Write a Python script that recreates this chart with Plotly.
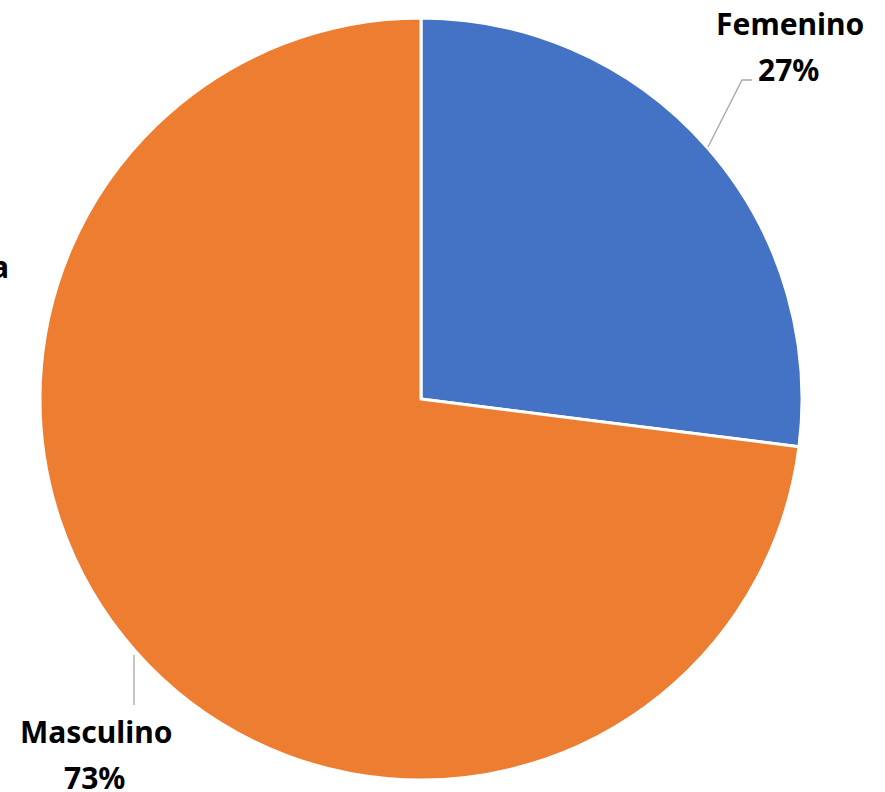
import plotly.graph_objects as go

W, H = 885, 792

labels = ['Femenino', 'Masculino']
values = [27, 73]
colors = ['#4472C4', '#ED7D31']

# pie placement in page pixels (centre + radius), converted to paper coords
cx, cy, r = 421, 399, 381


def px(x):
    return x / W


def py(y):
    return 1 - y / H


fig = go.Figure()
fig.add_trace(go.Pie(
    labels=labels,
    values=values,
    sort=False,
    direction='clockwise',
    rotation=0,
    textinfo='none',
    hoverinfo='label+percent',
    marker=dict(colors=colors, line=dict(color='white', width=3)),
    domain=dict(x=[px(cx - r), px(cx + r)], y=[py(cy + r), py(cy - r)]),
    showlegend=False,
))

font = dict(family='Noto Sans', size=30, color='#000000')
total = sum(values)
# (x centre, y of name line, y of percent line)
label_pos = {'Femenino': (790, 23, 69), 'Masculino': (96, 731, 777)}
for lab, val in zip(labels, values):
    x, y1, y2 = label_pos[lab]
    fig.add_annotation(x=px(x), y=py(y1), xref='paper', yref='paper',
                       text=f'<b>{lab}</b>', showarrow=False, font=font,
                       xanchor='center', yanchor='middle')
    fig.add_annotation(x=px(x - 2), y=py(y2), xref='paper', yref='paper',
                       text=f'<b>{round(100 * val / total)}%</b>', showarrow=False,
                       font=font, xanchor='center', yanchor='middle')

# cropped label of a third (off-canvas) category on the left edge
fig.add_annotation(x=px(11), y=py(266), xref='paper', yref='paper',
                   text='<b>a</b>', showarrow=False, font=font,
                   xanchor='right', yanchor='middle')

# leader lines
line = dict(color='#A6A6A6', width=1.3)
fig.add_shape(type='path', xref='paper', yref='paper',
              path=f'M {px(708)} {py(147)} L {px(742)} {py(80)} L {px(752)} {py(80)}',
              line=line)
fig.add_shape(type='line', xref='paper', yref='paper',
              x0=px(134), y0=py(655), x1=px(134), y1=py(705), line=line)

fig.update_layout(
    width=W, height=H,
    margin=dict(l=0, r=0, t=0, b=0),
    paper_bgcolor='white',
    plot_bgcolor='white',
)

# drop the browser's default body margin so the figure fills the window
fig.write_html('out.html', config={'displayModeBar': False},
               post_script="document.body.style.margin='0';")
